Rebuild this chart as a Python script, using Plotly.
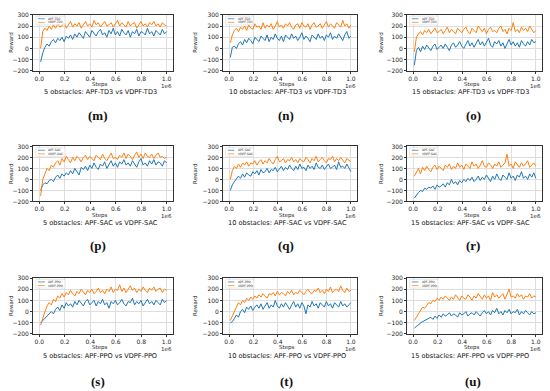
import numpy as np
import plotly.graph_objects as go

# ---------------- data ----------------
CAPTIONS = [
    "5 obstacles: APF-TD3 vs VDPF-TD3", "10 obstacles: APF-TD3 vs VDPF-TD3", "15 obstacles: APF-TD3 vs VDPF-TD3",
    "5 obstacles: APF-SAC vs VDPF-SAC", "10 obstacles: APF-SAC vs VDPF-SAC", "15 obstacles: APF-SAC vs VDPF-SAC",
    "5 obstacles: APF-PPO vs VDPF-PPO", "10 obstacles: APF-PPO vs VDPF-PPO", "15 obstacles: APF-PPO vs VDPF-PPO",
]
LABELS = ["(m)", "(n)", "(o)", "(p)", "(q)", "(r)", "(s)", "(t)", "(u)"]
ALGOS = ["TD3", "TD3", "TD3", "SAC", "SAC", "SAC", "PPO", "PPO", "PPO"]
Y_TICKS = [-200, -100, 0, 100, 200, 300]
Y_TICK_TEXT = ["\u2212200", "\u2212100", "0", "100", "200", "300"]
X_TICKS = [0, 200000, 400000, 600000, 800000, 1000000]
X_TICK_TEXT = ["0.0", "0.2", "0.4", "0.6", "0.8", "1.0"]

m_apf = [-120, -40, 10, 40, 20, 60, 80, 50, 90, 70, 100, 60, 110, 90, 120, 80, 130, 100, 140, 110, 90, 150, 120, 100, 160, 130, 110, 150, 170, 120, 140, 100, 160, 130, 180, 120, 150, 110, 170, 140, 120, 160, 100, 150, 130, 170, 110, 150, 140, 120, 180, 130, 150, 110, 160, 140, 120, 170, 130, 150]
m_vdpf = [0, 150, 180, 160, 200, 170, 210, 180, 220, 190, 200, 230, 180, 210, 240, 190, 220, 200, 230, 180, 210, 240, 200, 220, 190, 250, 210, 230, 190, 220, 240, 200, 210, 230, 190, 220, 250, 200, 230, 210, 190, 240, 200, 220, 230, 180, 210, 240, 200, 220, 190, 230, 210, 240, 200, 220, 190, 230, 210, 200]
n_apf = [-80, 10, 20, 0, 40, 60, 30, 80, 50, 90, 70, 40, 100, 80, 60, 110, 90, 70, 120, 60, 100, 80, 130, 90, 70, 110, 60, 120, 100, 80, 130, 90, 110, 70, 100, 140, 80, 110, 90, 60, 120, 100, 80, 130, 90, 110, 70, 120, 100, 140, 80, 110, 90, 130, 100, 70, 120, 150, 90, 110]
n_vdpf = [50, 120, 160, 180, 150, 190, 170, 200, 160, 210, 180, 170, 220, 190, 200, 170, 230, 180, 210, 190, 220, 170, 200, 240, 190, 210, 180, 220, 200, 230, 190, 170, 210, 220, 180, 230, 200, 190, 220, 170, 210, 230, 190, 200, 220, 180, 210, 240, 190, 220, 200, 180, 230, 210, 190, 250, 200, 220, 180, 210]
o_apf = [-150, -20, 10, -30, 20, -10, 30, 0, -20, 20, 40, -10, 10, 30, 0, 40, 10, -20, 30, 50, 10, 30, 60, 20, 0, 40, 70, 20, 50, 10, 40, 80, 30, 60, 20, 50, 90, 30, 10, 60, 40, 70, 20, 50, 0, 40, 80, 30, 60, 20, 50, 10, 70, 40, 20, 60, 30, 80, 50, 60]
o_vdpf = [-30, 100, 130, 150, 120, 160, 140, 170, 130, 160, 180, 140, 150, 170, 130, 160, 190, 140, 170, 150, 130, 180, 160, 140, 170, 190, 150, 130, 180, 160, 140, 200, 170, 150, 180, 130, 170, 190, 150, 160, 140, 180, 200, 150, 170, 130, 180, 160, 230, 150, 170, 140, 190, 160, 180, 150, 200, 170, 140, 160]
p_apf = [-100, -50, -30, -40, -10, 0, -20, 20, 40, 10, 50, 30, 60, 40, 80, 50, 100, 70, 40, 110, 90, 120, 80, 130, 100, 150, 110, 90, 140, 120, 160, 100, 130, 170, 120, 150, 110, 160, 140, 180, 130, 150, 120, 170, 140, 110, 160, 190, 130, 150, 120, 170, 140, 180, 130, 160, 150, 120, 170, 150]
p_vdpf = [-150, 0, 50, 100, 80, 130, 110, 150, 170, 130, 190, 160, 210, 180, 150, 200, 170, 210, 190, 160, 200, 220, 180, 210, 190, 170, 220, 200, 180, 230, 190, 170, 210, 240, 190, 200, 180, 220, 200, 240, 190, 230, 210, 180, 220, 250, 200, 230, 190, 240, 210, 200, 230, 190, 220, 240, 200, 210, 190, 200]
q_apf = [-100, -50, -20, 0, 30, 10, 50, 20, 60, 40, 30, 70, 50, 80, 40, 90, 60, 70, 100, 60, 90, 80, 110, 70, 100, 120, 80, 110, 90, 130, 100, 80, 120, 90, 140, 100, 110, 80, 130, 100, 120, 90, 150, 110, 100, 130, 90, 120, 140, 100, 110, 130, 90, 160, 110, 120, 100, 140, 110, 70]
q_vdpf = [0, 80, 120, 100, 140, 110, 150, 130, 160, 120, 150, 140, 170, 130, 160, 180, 140, 170, 150, 190, 160, 140, 180, 210, 160, 170, 190, 150, 180, 170, 200, 160, 180, 150, 190, 170, 160, 200, 180, 150, 190, 170, 210, 160, 180, 200, 170, 150, 190, 180, 210, 160, 190, 170, 200, 180, 150, 190, 170, 160]
r_apf = [-170, -140, -120, -100, -110, -80, -90, -70, -80, -60, -90, -50, -70, -60, -40, -70, -30, -50, 0, -40, -20, -50, -10, -30, 0, -20, 10, -10, 20, -20, 0, 30, -10, 20, 0, 40, 10, -20, 30, 0, 50, 10, -10, 40, 20, 0, 60, 10, 30, -10, 40, 20, 70, 10, 30, 0, 50, 20, 60, 10]
r_vdpf = [30, 60, 100, 50, 110, 80, 120, 90, 70, 110, 130, 90, 120, 100, 80, 130, 110, 140, 90, 120, 100, 150, 110, 130, 90, 140, 120, 100, 160, 120, 140, 100, 130, 170, 120, 110, 150, 130, 100, 140, 120, 160, 110, 130, 150, 230, 120, 140, 100, 160, 130, 110, 150, 120, 140, 170, 110, 130, 150, 120]
s_apf = [-100, -80, -60, -40, -20, 0, -20, 20, 40, 10, 60, 30, 80, 50, 70, 40, 90, 60, 100, 70, 50, 90, 110, 60, 80, 100, 50, 90, 70, 110, 60, 80, 30, 90, 70, 100, 60, 80, 110, 70, 50, 90, 80, 120, 60, 90, 70, 100, 50, 80, 110, 70, 90, 60, 100, 80, 60, 110, 80, 100]
s_vdpf = [-120, -50, 0, 50, 80, 60, 110, 90, 140, 120, 160, 130, 170, 150, 190, 160, 140, 180, 160, 200, 170, 150, 190, 170, 200, 160, 180, 210, 170, 190, 160, 200, 180, 220, 170, 200, 190, 240, 180, 210, 170, 200, 230, 190, 210, 170, 200, 180, 220, 190, 170, 210, 190, 220, 180, 200, 210, 170, 200, 190]
t_apf = [-100, -90, -60, -30, -50, 0, 20, -10, 40, 20, 50, 10, 40, 60, 30, 70, 20, 50, 80, 30, 60, 40, 100, 50, 30, 70, 40, 80, 50, 20, 60, 90, 40, 70, 30, 80, 50, -20, 60, 40, 90, 50, 70, 30, 80, 60, 40, 90, 50, 70, 30, 80, 60, 40, 90, 50, 70, 40, 60, 80]
t_vdpf = [-80, -40, 0, 40, 80, 60, 100, 80, 120, 100, 130, 110, 140, 120, 150, 130, 160, 140, 120, 160, 150, 170, 140, 180, 150, 170, 160, 140, 180, 160, 190, 150, 170, 160, 190, 170, 150, 180, 200, 170, 160, 190, 180, 210, 170, 190, 160, 200, 180, 220, 170, 190, 200, 180, 230, 190, 170, 210, 180, 190]
u_apf = [-150, -130, -120, -100, -90, -80, -70, -60, -50, -70, -40, -60, -30, -50, -20, -40, -30, -10, -40, -20, -30, -50, -10, -30, -20, 0, -40, -20, -10, -30, 0, -20, -40, -10, 10, -20, 0, -30, 10, -10, 30, -20, 0, -30, 10, -10, 20, -20, 0, -10, 20, -30, 0, -20, 10, -10, -30, 0, -20, -10]
u_vdpf = [-80, -50, -20, 10, 40, 30, 60, 80, 70, 100, 90, 120, 100, 130, 110, 140, 120, 100, 130, 110, 150, 120, 100, 140, 120, 110, 150, 130, 100, 140, 120, 160, 130, 110, 150, 120, 140, 100, 170, 130, 150, 120, 140, 160, 110, 150, 200, 130, 140, 120, 160, 130, 150, 110, 140, 130, 160, 120, 140, 130]

APF = [m_apf, n_apf, o_apf, p_apf, q_apf, r_apf, s_apf, t_apf, u_apf]
VDPF = [m_vdpf, n_vdpf, o_vdpf, p_vdpf, q_vdpf, r_vdpf, s_vdpf, t_vdpf, u_vdpf]

# ---------------- layout helpers ----------------
W, H = 550, 391
COLS = [(33, 173), (223, 357), (407, 542)]
ROWS = [(11, 68), (145, 201), (279, 336)]
YLAB_X = [11, 195, 381]
CAP_X = [100, 287, 470]
LAB_X = [98, 286, 473]
CAP_Y = [90, 223, 358]
LAB_Y = [114, 246, 384]

BLUE = "#1f77b4"
ORANGE = "#ff7f0e"
FONT = "DejaVu Sans"
TXT = "#262626"


def px(x):
    return x / W


def py(y):
    return 1 - y / H


fig = go.Figure()
annotations = []
shapes = []
layout = {}

for i in range(9):
    r, c = divmod(i, 3)
    sfx = "" if i == 0 else str(i + 1)
    xa, ya = "x" + sfx, "y" + sfx
    x0, x1 = COLS[c]
    y0, y1 = ROWS[r]
    apf, vdpf = APF[i], VDPF[i]
    xs_a = np.linspace(10000, 1000000, len(apf))
    xs_v = np.linspace(10000, 1000000, len(vdpf))
    fig.add_trace(go.Scatter(x=xs_a, y=apf, mode="lines", line=dict(color=BLUE, width=1.0),
                             xaxis=xa, yaxis=ya, showlegend=False, name="APF-" + ALGOS[i]))
    fig.add_trace(go.Scatter(x=xs_v, y=vdpf, mode="lines", line=dict(color=ORANGE, width=1.0),
                             xaxis=xa, yaxis=ya, showlegend=False, name="VDPF-" + ALGOS[i]))

    common = dict(showgrid=True, gridcolor="#dedede", gridwidth=0.6, zeroline=False,
                  showline=True, mirror=True, linecolor="#333333", linewidth=0.7,
                  ticks="outside", ticklen=2, tickwidth=0.6, tickcolor="#333333",
                  tickfont=dict(size=6, family=FONT, color=TXT))
    layout["xaxis" + sfx] = dict(common, domain=[px(x0), px(x1)], anchor=ya,
                                 range=[-50000, 1050000], tickvals=X_TICKS, ticktext=X_TICK_TEXT)
    layout["yaxis" + sfx] = dict(common, domain=[py(y1), py(y0)], anchor=xa,
                                 range=[-200, 300], tickvals=Y_TICKS, ticktext=Y_TICK_TEXT)

    # axis labels
    annotations.append(dict(x=px((x0 + x1) / 2 - 3), y=py(y1 + 14), xref="paper", yref="paper",
                            text="Steps", showarrow=False, font=dict(size=5.5, family=FONT, color=TXT),
                            xanchor="center", yanchor="middle"))
    annotations.append(dict(x=px(x1 + 1), y=py(y1 + 15), xref="paper", yref="paper",
                            text="1e6", showarrow=False, font=dict(size=5.5, family=FONT, color=TXT),
                            xanchor="right", yanchor="middle"))
    annotations.append(dict(x=px(YLAB_X[c]), y=py((y0 + y1) / 2), xref="paper", yref="paper",
                            text="Reward", showarrow=False, textangle=-90,
                            font=dict(size=5.5, family=FONT, color=TXT),
                            xanchor="center", yanchor="middle"))
    # captions
    annotations.append(dict(x=px(CAP_X[c]), y=py(CAP_Y[r]), xref="paper", yref="paper",
                            text=CAPTIONS[i], showarrow=False, font=dict(size=6.6, family=FONT, color="#111111"),
                            xanchor="center", yanchor="middle"))
    annotations.append(dict(x=px(LAB_X[c]), y=py(LAB_Y[r]), xref="paper", yref="paper",
                            text="<b>" + LABELS[i] + "</b>", showarrow=False,
                            font=dict(size=13, family="Liberation Serif", color="#111111"),
                            xanchor="center", yanchor="middle"))

    # manual legend
    xd, yd = xa + " domain", ya + " domain"
    shapes.append(dict(type="rect", xref=xd, yref=yd, x0=0.02, x1=0.23, y0=0.82, y1=0.975,
                       line=dict(color="#d0d0d0", width=0.5), fillcolor="rgba(255,255,255,0.8)", layer="above"))
    for k, (yy, col, nm) in enumerate([(0.93, BLUE, "APF-" + ALGOS[i]), (0.865, ORANGE, "VDPF-" + ALGOS[i])]):
        shapes.append(dict(type="line", xref=xd, yref=yd, x0=0.035, x1=0.085, y0=yy, y1=yy,
                           line=dict(color=col, width=0.7), layer="above"))
        annotations.append(dict(x=0.095, y=yy, xref=xd, yref=yd, text=nm, showarrow=False,
                                font=dict(size=3, family=FONT, color=TXT), xanchor="left", yanchor="middle"))

fig.update_layout(**layout)
fig.update_layout(width=W, height=H, autosize=False, margin=dict(l=0, r=0, t=0, b=0),
                  paper_bgcolor="white", plot_bgcolor="white",
                  annotations=annotations, shapes=shapes, showlegend=False)
fig.write_html("out.html", config={"displayModeBar": False},
               post_script="document.body.style.margin='0';document.body.style.padding='0';")
